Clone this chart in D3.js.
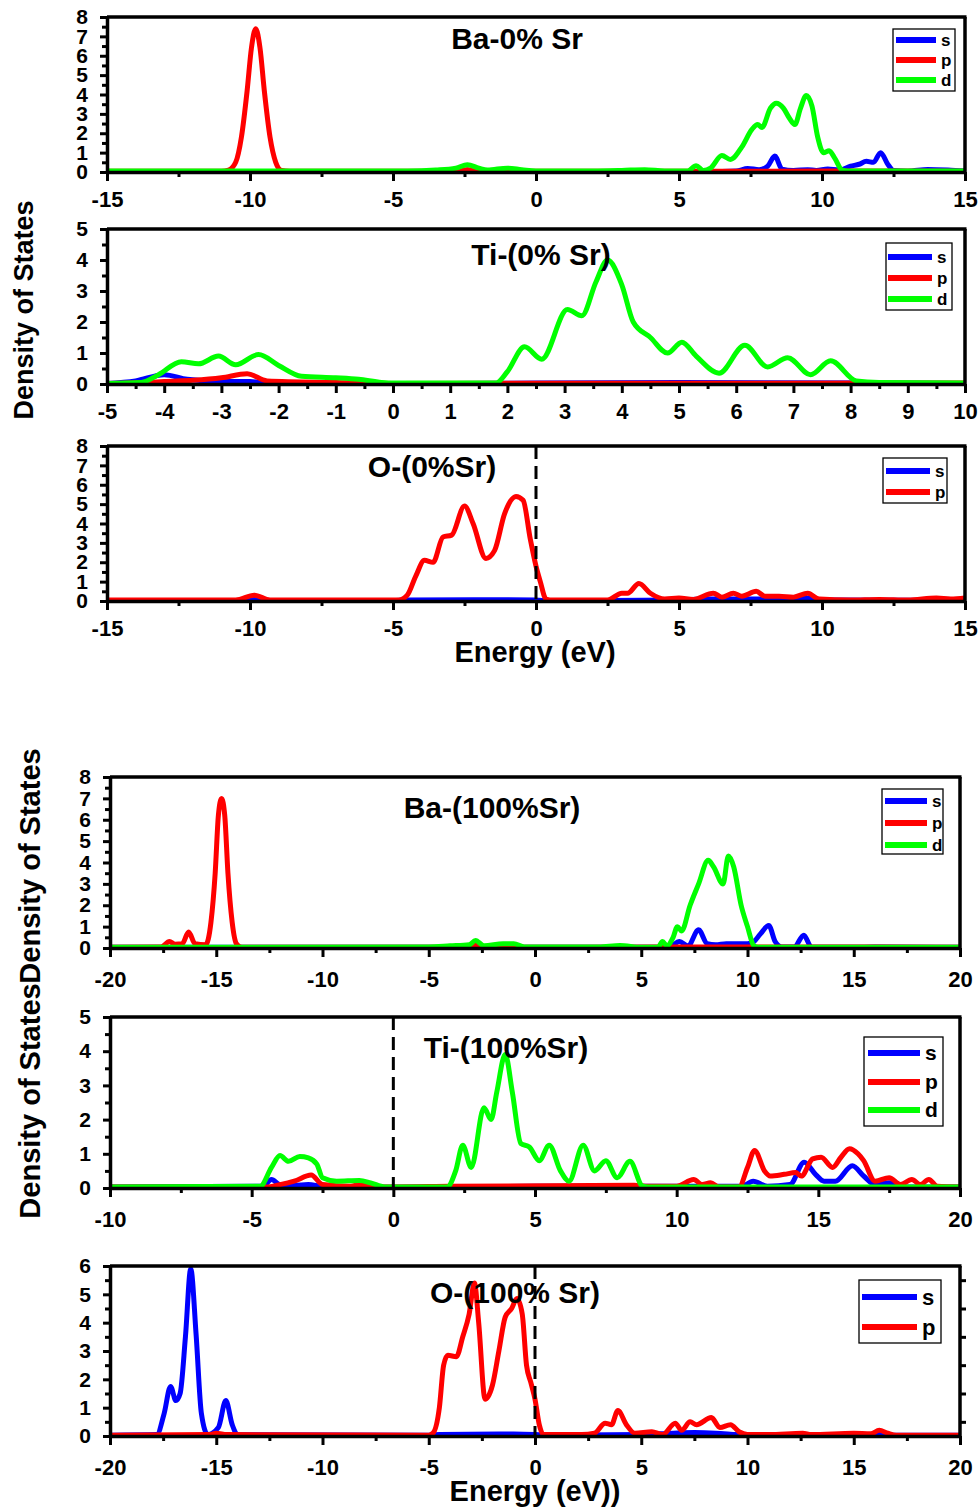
<!DOCTYPE html>
<html><head><meta charset="utf-8">
<script src="https://cdn.jsdelivr.net/npm/d3@7"></script>
<style>
body{margin:0;background:#fff}
svg{display:block}
text{font-family:"Liberation Sans",Arial,Helvetica,sans-serif;font-weight:bold;fill:#000}
</style>
</head><body>
<svg id="c" width="980" height="1509"></svg>
<script>
// ---------------- DATA (energy eV, DOS) ----------------
const titles = ["Ba-0% Sr","Ti-(0% Sr)","O-(0%Sr)","Ba-(100%Sr)","Ti-(100%Sr)","O-(100% Sr)"];
const seriesNames = ["s","p","d"];
const xLabelTop = "Energy (eV)";
const xLabelBottom = "Energy (eV))";
const yLabel = "Density of States";

const ba0_s = [[-15,0.02],[-2.6,0.02],[-2.4,0.1],[-2.2,0.02],[6,0.02],[7.0,0.05],[7.4,0.18],[7.8,0.12],[8.1,0.3],[8.35,0.82],[8.6,0.15],[9,0.08],[9.5,0.12],[9.8,0.08],[10.2,0.15],[10.6,0.1],[11.0,0.3],[11.3,0.4],[11.55,0.55],[11.8,0.5],[12.05,1.0],[12.3,0.4],[12.5,0.08],[13.0,0.04],[13.7,0.13],[14.4,0.1],[15,0.05]];
const ba0_p = [[-15,0.04],[-11,0.04],[-10.75,0.1],[-10.5,0.5],[-10.3,1.8],[-10.1,4.2],[-9.95,6.4],[-9.8,7.4],[-9.65,6.4],[-9.5,4.2],[-9.3,1.8],[-9.1,0.5],[-8.9,0.08],[-8.6,0.04],[-2.7,0.04],[-2.4,0.12],[-2.1,0.04],[6,0.04],[10.5,0.05],[15,0.04]];
const ba0_d = [[-15,0.05],[-4.5,0.05],[-3.5,0.1],[-2.8,0.2],[-2.4,0.38],[-2.0,0.2],[-1.7,0.1],[-1.0,0.2],[-0.5,0.12],[0,0.05],[2,0.05],[3,0.08],[3.8,0.12],[4.5,0.05],[5.3,0.05],[5.6,0.32],[5.85,0.08],[6.1,0.2],[6.5,0.85],[6.8,0.65],[7.2,1.3],[7.55,2.2],[7.75,2.45],[7.9,2.3],[8.2,3.3],[8.4,3.55],[8.65,3.3],[8.85,2.8],[9.05,2.45],[9.25,3.3],[9.45,3.95],[9.65,3.4],[9.85,1.8],[10.05,1.0],[10.25,1.1],[10.45,0.7],[10.7,0.1],[10.9,0.05],[15,0.05]];

const ti0_s = [[-5,0.02],[-4.5,0.1],[-4.0,0.3],[-3.6,0.15],[-3,0.08],[-2.5,0.08],[-2.2,0.02],[0,0.01],[5,0.05],[10,0.02]];
const ti0_p = [[-5,0.02],[-4.3,0.05],[-4,0.08],[-3.5,0.12],[-3,0.2],[-2.55,0.33],[-2.2,0.1],[-1,0.05],[0,0.02],[10,0.03]];
const ti0_d = [[-5,0.02],[-4.4,0.05],[-4.1,0.3],[-3.7,0.72],[-3.4,0.65],[-3.05,0.9],[-2.75,0.62],[-2.35,0.95],[-2.0,0.6],[-1.6,0.25],[-1.0,0.2],[-0.6,0.15],[-0.2,0.05],[0,0.03],[1.8,0.03],[2.0,0.4],[2.3,1.2],[2.6,0.8],[3.05,2.4],[3.3,2.2],[3.55,3.3],[3.75,4.0],[4.0,3.2],[4.2,2.0],[4.5,1.5],[4.8,1.0],[5.05,1.35],[5.3,0.9],[5.7,0.35],[6.15,1.25],[6.55,0.55],[6.9,0.85],[7.3,0.3],[7.65,0.75],[8.1,0.1],[8.5,0.05],[10,0.03]];

const o0_s = [[-15,0.03],[-10.3,0.03],[-9.9,0.12],[-9.5,0.01],[-5,0.02],[-4.5,0.05],[-1,0.07],[0,0.05],[0.5,0.01],[2.5,0.02],[5,0.05],[6,0.1],[8,0.1],[9.5,0.15],[10,0.05],[15,0.03]];
const o0_p = [[-15,0.05],[-10.5,0.05],[-9.85,0.3],[-9.3,0.05],[-4.8,0.05],[-4.5,0.3],[-4.2,1.3],[-3.9,2.1],[-3.6,2.0],[-3.25,3.3],[-2.95,3.4],[-2.5,4.9],[-2.2,4.0],[-1.75,2.2],[-1.45,2.6],[-1.1,4.5],[-0.7,5.4],[-0.45,5.2],[-0.2,3.2],[0,1.8],[0.15,1.0],[0.35,0.1],[0.6,0.05],[2.5,0.05],[3.0,0.4],[3.2,0.4],[3.6,0.9],[4.0,0.4],[4.5,0.1],[5.0,0.15],[5.5,0.08],[6.2,0.4],[6.5,0.2],[6.9,0.4],[7.2,0.25],[7.7,0.5],[8.0,0.25],[8.5,0.25],[9.0,0.2],[9.5,0.4],[9.9,0.1],[11,0.05],[12,0.08],[13,0.05],[14,0.15],[14.5,0.1],[15,0.15]];

const ba100_s = [[-20,0.03],[6.3,0.03],[6.8,0.3],[7.2,0.1],[7.7,0.85],[8.1,0.2],[8.5,0.15],[9,0.2],[10,0.2],[10.3,0.3],[10.6,0.65],[11.0,1.05],[11.3,0.3],[11.6,0.05],[12.2,0.05],[12.65,0.6],[13.0,0.05],[15,0.03],[16,0.05],[20,0.03]];
const ba100_p = [[-20,0.03],[-17.6,0.05],[-17.2,0.3],[-16.95,0.18],[-16.6,0.2],[-16.3,0.75],[-16.0,0.2],[-15.5,0.15],[-15.25,1.2],[-15.05,3.5],[-14.9,6.2],[-14.75,7.0],[-14.6,6.2],[-14.45,3.5],[-14.25,1.2],[-14.05,0.2],[-13.8,0.03],[-3.1,0.03],[-2.8,0.15],[-2.5,0.03],[-1.7,0.03],[-1.5,0.1],[-1.3,0.03],[6,0.05],[10.3,0.05],[20,0.03]];
const ba100_d = [[-20,0.03],[-5,0.05],[-4,0.1],[-3.1,0.15],[-2.8,0.35],[-2.4,0.1],[-1.5,0.2],[-1,0.2],[-0.5,0.05],[3,0.05],[4,0.12],[5,0.03],[5.8,0.05],[6.0,0.3],[6.2,0.1],[6.5,0.5],[6.7,1.0],[6.9,0.8],[7.3,2.0],[7.7,3.0],[8.15,4.1],[8.4,3.8],[8.85,3.0],[9.1,4.3],[9.35,3.8],[9.7,2.0],[10.0,1.0],[10.3,0.1],[10.5,0.03],[20,0.03]];

const ti100_s = [[-10,0.03],[-4.6,0.05],[-4.3,0.25],[-4,0.1],[-3.5,0.08],[-3,0.1],[-2.5,0.05],[0,0.02],[5,0.05],[10,0.05],[12.3,0.05],[12.7,0.2],[13.2,0.05],[14,0.1],[14.5,0.75],[14.9,0.4],[15.2,0.2],[15.6,0.2],[16.2,0.65],[16.6,0.35],[17,0.1],[17.5,0.15],[18,0.03],[20,0.03]];
const ti100_p = [[-10,0.03],[-4.5,0.03],[-4,0.1],[-3.5,0.2],[-2.9,0.38],[-2.5,0.1],[-1.5,0.05],[-1.2,0.1],[-0.5,0.03],[0,0.03],[2,0.05],[8.5,0.08],[9,0.05],[10,0.05],[10.6,0.25],[10.9,0.1],[11.2,0.15],[11.5,0.03],[12.2,0.03],[12.5,0.6],[12.75,1.1],[13.1,0.5],[13.3,0.35],[13.8,0.4],[14.2,0.45],[14.4,0.35],[14.8,0.85],[15.1,0.9],[15.5,0.6],[15.8,0.9],[16.1,1.15],[16.4,1.0],[16.6,0.8],[17,0.2],[17.5,0.3],[17.9,0.1],[18.3,0.25],[18.6,0.1],[18.9,0.25],[19.2,0.05],[20,0.03]];
const ti100_d = [[-10,0.03],[-4.7,0.05],[-4.3,0.6],[-4.0,0.95],[-3.7,0.78],[-3.3,0.92],[-3.0,0.88],[-2.7,0.7],[-2.5,0.3],[-2,0.2],[-1.2,0.22],[-0.8,0.15],[-0.3,0.03],[0,0.03],[1.9,0.03],[2.2,0.5],[2.45,1.25],[2.75,0.6],[3.2,2.35],[3.45,2.0],[3.65,2.8],[3.95,3.9],[4.2,2.8],[4.5,1.3],[4.8,1.2],[5.15,0.8],[5.5,1.25],[5.9,0.5],[6.2,0.2],[6.7,1.25],[7.1,0.5],[7.5,0.8],[7.9,0.3],[8.35,0.78],[8.8,0.05],[9,0.03],[20,0.03]];

const o100_s = [[-20,0.03],[-17.8,0.05],[-17.45,0.8],[-17.15,1.75],[-16.9,1.25],[-16.7,1.5],[-16.45,3.5],[-16.2,5.9],[-15.95,3.6],[-15.7,0.8],[-15.4,0.05],[-14.9,0.3],[-14.55,1.25],[-14.25,0.4],[-14,0.05],[-5,0.03],[-4.5,0.05],[-1,0.07],[0,0.05],[0.5,0.03],[5,0.05],[6.5,0.1],[7.5,0.12],[8.5,0.1],[9.5,0.05],[10,0.03],[16,0.05],[16.2,0.1],[16.5,0.03],[20,0.03]];
const o100_p = [[-20,0.03],[-15.3,0.05],[-15,0.1],[-14.5,0.05],[-5,0.03],[-4.8,0.1],[-4.5,1.0],[-4.3,2.5],[-4.1,2.85],[-3.7,2.8],[-3.4,3.5],[-3.1,4.3],[-2.85,5.4],[-2.65,4.0],[-2.35,1.3],[-2.0,1.8],[-1.7,3.0],[-1.4,4.2],[-1.1,4.5],[-0.85,4.85],[-0.6,4.3],[-0.4,2.5],[-0.2,1.9],[0,1.3],[0.2,0.4],[0.4,0.05],[2.2,0.05],[2.8,0.1],[3.3,0.45],[3.6,0.4],[3.9,0.9],[4.3,0.4],[4.7,0.1],[5.5,0.15],[6.0,0.05],[6.6,0.45],[6.9,0.2],[7.3,0.5],[7.6,0.4],[8.3,0.65],[8.7,0.3],[9.2,0.4],[9.6,0.15],[10,0.05],[11,0.05],[12.6,0.1],[13,0.05],[15,0.1],[15.8,0.08],[16.2,0.2],[16.6,0.1],[17,0.03],[20,0.03]];

const seriesColors = {s:"#0000ff", p:"#ff0000", d:"#00ff00"};

// ---------------- LAYOUT ----------------
const panels = [
  {title:titles[0], series:{s:ba0_s,p:ba0_p,d:ba0_d}, xd:[-15,15], yd:[0,8], xs:5, ys:1, L:107,R:965,T:17,B:172, tx:517,ty:49, dash:false, xpad:10,
   leg:{x:893,y:29,w:62,h:62,rows:[40,60,80],l1:896,l2:936,fs:17,lw:6}},
  {title:titles[1], series:{s:ti0_s,p:ti0_p,d:ti0_d}, xd:[-5,10], yd:[0,5], xs:1, ys:1, L:107,R:965,T:229,B:384, tx:541,ty:265, dash:false, xpad:10,
   leg:{x:886,y:243,w:66,h:67,rows:[257,278,299],l1:888,l2:932,fs:17,lw:6}},
  {title:titles[2], series:{s:o0_s,p:o0_p}, xd:[-15,15], yd:[0,8], xs:5, ys:1, L:107,R:965,T:446,B:601, tx:432,ty:477, dash:true, xpad:10, xlab:xLabelTop, xly:662,
   leg:{x:883,y:458,w:64,h:45,rows:[471,492],l1:886,l2:930,fs:17,lw:6}},
  {title:titles[3], series:{s:ba100_s,p:ba100_p,d:ba100_d}, xd:[-20,20], yd:[0,8], xs:5, ys:1, L:110,R:960,T:777,B:948, tx:492,ty:818, dash:false, xpad:14,
   leg:{x:882,y:789,w:61,h:65,rows:[801,823,845],l1:885,l2:927,fs:17,lw:6}},
  {title:titles[4], series:{s:ti100_s,p:ti100_p,d:ti100_d}, xd:[-10,20], yd:[0,5], xs:5, ys:1, L:110,R:960,T:1017,B:1188, tx:506,ty:1058, dash:true, xpad:14,
   leg:{x:864,y:1037,w:79,h:89,rows:[1053,1082,1110],l1:868,l2:920,fs:21,lw:6}},
  {title:titles[5], series:{s:o100_s,p:o100_p}, xd:[-20,20], yd:[0,6], xs:5, ys:1, L:110,R:960,T:1266,B:1436, tx:515,ty:1303, dash:true, xpad:14, xlab:xLabelBottom, xly:1501, rightTicks:true,
   leg:{x:859,y:1280,w:82,h:63,rows:[1297,1327],l1:862,l2:917,fs:22,lw:6}}
];

const svg = d3.select("#c");
const fmt = d => String(d);

function range(a,b,s){const out=[];for(let v=a;v<=b+1e-9;v+=s)out.push(+v.toFixed(4));return out;}

panels.forEach(P=>{
  const x = d3.scaleLinear().domain(P.xd).range([P.L,P.R]);
  const y = d3.scaleLinear().domain(P.yd).range([P.B,P.T]);
  const g = svg.append("g");

  // data lines
  const line = d3.line().x(d=>x(d[0])).y(d=>y(d[1])).curve(d3.curveMonotoneX);
  const cp = "clip"+P.T;
  g.append("clipPath").attr("id",cp).append("rect").attr("x",P.L).attr("y",P.T-10).attr("width",P.R-P.L).attr("height",P.B-P.T+10);
  seriesNames.forEach(k=>{
    if(!P.series[k]) return;
    g.append("path").datum(P.series[k]).attr("d",line).attr("fill","none")
      .attr("stroke",seriesColors[k]).attr("stroke-width",5).attr("stroke-linejoin","round")
      .attr("clip-path",`url(#${cp})`);
  });

  // dashed zero line
  if(P.dash){
    g.append("line").attr("x1",x(0)).attr("x2",x(0)).attr("y1",P.T).attr("y2",P.B)
      .attr("stroke","#000").attr("stroke-width",3).attr("stroke-dasharray","13,7");
  }

  // frame top & right
  g.append("line").attr("x1",P.L).attr("x2",P.R+1.5).attr("y1",P.T).attr("y2",P.T).attr("stroke","#000").attr("stroke-width",3.5);
  g.append("line").attr("x1",P.R).attr("x2",P.R).attr("y1",P.T).attr("y2",P.B+1.5).attr("stroke","#000").attr("stroke-width",3.5);
  if(P.rightTicks){
    const ra = g.append("g").attr("transform",`translate(${P.R},0)`)
      .call(d3.axisRight(y).tickValues(range(P.yd[0]+0.5,P.yd[1]-0.5,1)).tickSize(6).tickSizeOuter(0).tickFormat(""));
    ra.select(".domain").remove();
    ra.selectAll("line").attr("stroke-width",3);
  }

  // x axis: minor then major
  const xmin = g.append("g").attr("transform",`translate(0,${P.B})`)
    .call(d3.axisBottom(x).tickValues(range(P.xd[0]+P.xs/2,P.xd[1],P.xs)).tickSize(5).tickSizeOuter(0).tickFormat(""));
  xmin.select(".domain").remove();
  xmin.selectAll("line").attr("stroke-width",3);
  const xa = g.append("g").attr("transform",`translate(0,${P.B})`)
    .call(d3.axisBottom(x).tickValues(range(P.xd[0],P.xd[1],P.xs)).tickSize(9).tickSizeOuter(0).tickPadding(P.xpad).tickFormat(fmt));
  xa.select(".domain").attr("stroke-width",3.5);
  xa.selectAll("line").attr("stroke-width",3);
  xa.selectAll("text").attr("font-size",22).attr("font-family","Liberation Sans, Arial, sans-serif").attr("font-weight","bold").attr("fill","#000");

  // y axis
  const ymin = g.append("g").attr("transform",`translate(${P.L},0)`)
    .call(d3.axisLeft(y).tickValues(range(P.yd[0]+0.5,P.yd[1],P.ys)).tickSize(5).tickSizeOuter(0).tickFormat(""));
  ymin.select(".domain").remove();
  ymin.selectAll("line").attr("stroke-width",3);
  const ya = g.append("g").attr("transform",`translate(${P.L},0)`)
    .call(d3.axisLeft(y).tickValues(range(P.yd[0],P.yd[1],P.ys)).tickSize(7).tickSizeOuter(0).tickPadding(12).tickFormat(fmt));
  ya.select(".domain").attr("stroke-width",3.5);
  ya.selectAll("line").attr("stroke-width",3);
  ya.selectAll("text").attr("font-size",21).attr("font-family","Liberation Sans, Arial, sans-serif").attr("font-weight","bold").attr("fill","#000");

  // title
  g.append("text").attr("x",P.tx).attr("y",P.ty).attr("text-anchor","middle").attr("font-size",30).text(P.title);

  // legend
  const Lg = P.leg;
  g.append("rect").attr("x",Lg.x).attr("y",Lg.y).attr("width",Lg.w).attr("height",Lg.h)
    .attr("fill","#fff").attr("stroke","#000").attr("stroke-width",1.3);
  seriesNames.filter(k=>P.series[k]).forEach((k,i)=>{
    g.append("line").attr("x1",Lg.l1).attr("x2",Lg.l2).attr("y1",Lg.rows[i]).attr("y2",Lg.rows[i])
      .attr("stroke",seriesColors[k]).attr("stroke-width",Lg.lw);
    g.append("text").attr("x",Lg.l2+5).attr("y",Lg.rows[i]).attr("dy","0.35em").attr("font-size",Lg.fs).text(k);
  });

  if(P.xlab){
    g.append("text").attr("x",535).attr("y",P.xly).attr("text-anchor","middle").attr("font-size",29).text(P.xlab);
  }
});

// y axis labels
[[24,310,27],[30,866,29],[30,1101,29]].forEach(([cx,cy,fs])=>{
  svg.append("text").attr("transform",`translate(${cx},${cy}) rotate(-90)`).attr("text-anchor","middle")
    .attr("dy","0.35em").attr("font-size",fs).text(yLabel);
});
</script>
</body></html>
